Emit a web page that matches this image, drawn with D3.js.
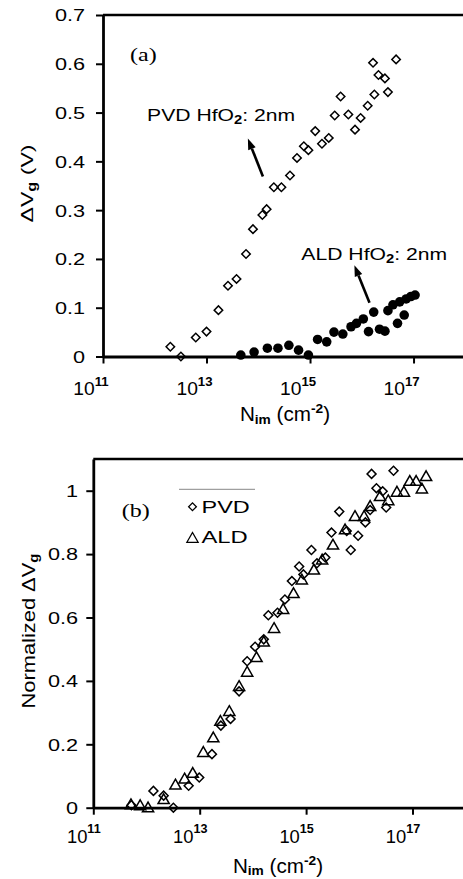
<!DOCTYPE html>
<html>
<head>
<meta charset="utf-8">
<script src="https://cdn.jsdelivr.net/npm/d3@7"></script>
<style>
  body { margin: 0; background: #fff; }
</style>
</head>
<body>
<div id="chart"></div>
<script>
// panel (a): gate voltage shift vs implant dose
const pvdN = [2.0e12, 3.2e12, 6.2e12, 1.0e13, 1.7e13, 2.6e13, 3.8e13, 5.8e13, 7.9e13, 1.2e14,
  1.45e14, 2.0e14, 2.8e14, 4.1e14, 5.6e14, 7.6e14, 9.3e14, 1.26e15, 1.7e15, 2.3e15,
  3.0e15, 3.9e15, 5.5e15, 7.4e15, 9.5e15, 1.3e16, 1.75e16, 1.65e16, 2.1e16, 2.8e16,
  3.2e16, 4.6e16];
const pvdDV = [0.020, 0.000, 0.039, 0.051, 0.095, 0.145, 0.159, 0.210, 0.261, 0.290,
  0.302, 0.347, 0.347, 0.371, 0.407, 0.431, 0.423, 0.462, 0.436, 0.448,
  0.494, 0.533, 0.496, 0.465, 0.489, 0.514, 0.537, 0.602, 0.577, 0.570,
  0.542, 0.609];
const aldN = [4.6e13, 8.3e13, 1.5e14, 2.4e14, 3.9e14, 6.0e14, 9.3e14, 1.4e15, 2.1e15, 2.9e15,
  4.3e15, 6.2e15, 7.9e15, 1.07e16, 1.35e16, 1.7e16, 2.2e16, 2.8e16, 3.2e16, 4.0e16,
  4.9e16, 5.4e16, 6.6e16, 7.2e16, 8.9e16, 1.07e17];
const aldDV = [0.003, 0.009, 0.017, 0.017, 0.023, 0.013, 0.003, 0.035, 0.030, 0.050,
  0.046, 0.061, 0.068, 0.077, 0.051, 0.091, 0.056, 0.052, 0.094, 0.106,
  0.068, 0.112, 0.085, 0.118, 0.123, 0.126];

// panel (b): normalized shift
const pvdNormN = [5.2e11, 1.35e12, 2.1e12, 3.2e12, 6.2e12, 9.8e12, 1.7e13, 2.5e13, 3.8e13, 5.5e13,
  7.8e13, 1.1e14, 1.6e14, 1.95e14, 2.9e14, 4.0e14, 5.4e14, 7.4e14, 8.9e14, 1.6e15,
  1.26e15, 2.3e15, 3.0e15, 4.2e15, 6.9e15, 5.8e15, 9.5e15, 1.3e16, 1.6e16, 1.7e16,
  2.1e16, 2.75e16, 3.2e16, 4.4e16];
const pvdNorm = [0.008, 0.053, 0.038, 0.000, 0.069, 0.095, 0.169, 0.259, 0.280, 0.367,
  0.462, 0.508, 0.531, 0.607, 0.615, 0.657, 0.715, 0.761, 0.736, 0.771,
  0.813, 0.789, 0.868, 0.934, 0.813, 0.873, 0.858, 0.900, 0.939, 1.053,
  1.008, 0.998, 0.947, 1.063];
const aldNormN = [5.1e11, 7.6e11, 1.07e12, 2.1e12, 3.5e12, 5.2e12, 7.4e12, 1.17e13, 1.8e13, 2.45e13,
  3.6e13, 5.5e13, 7.8e13, 1.17e14, 1.6e14, 2.5e14, 3.7e14, 5.8e14, 8.3e14, 1.4e15,
  2.0e15, 3.2e15, 5.4e15, 8.3e15, 1.23e16, 1.6e16, 2.45e16, 3.5e16, 5.1e16, 6.9e16,
  8.9e16, 1.17e17, 1.5e17, 1.8e17];
const aldNorm = [0.012, 0.009, 0.002, 0.028, 0.074, 0.093, 0.111, 0.177, 0.223, 0.275,
  0.306, 0.385, 0.430, 0.476, 0.525, 0.568, 0.628, 0.678, 0.721, 0.752,
  0.784, 0.831, 0.879, 0.921, 0.921, 0.953, 0.984, 0.971, 0.998, 0.998,
  1.032, 1.032, 1.008, 1.047];

const xTicks = [1e11, 1e13, 1e15, 1e17];
const xTickExp = ["11", "13", "15", "17"];
const yTicksA = [0, 0.1, 0.2, 0.3, 0.4, 0.5, 0.6, 0.7];
const yTicksB = [0, 0.2, 0.4, 0.6, 0.8, 1];

const sans = "'Liberation Sans', Arial, Helvetica, sans-serif";
const serif = "'Liberation Serif', 'Times New Roman', serif";

const svg = d3.select("#chart").append("svg")
  .attr("width", 463)
  .attr("height", 879);

// scales
const xA = d3.scaleLog().domain([1e11, 1e18]).range([103, 465.3]);
const yA = d3.scaleLinear().domain([0, 0.7]).range([356.5, 15]);
const xB = d3.scaleLog().domain([1e11, 1e18]).range([93.3, 465.7]);
const yB = d3.scaleLinear().domain([0, 1.1]).range([807.7, 459]);

// text stretched horizontally, the original font is wide
function wideText(parent, x, y, k, size, family) {
  return parent.append("text")
    .attr("transform", `translate(${x},${y}) scale(${k},1)`)
    .attr("font-size", size)
    .attr("font-family", family || sans)
    .attr("fill", "#000");
}

function drawAxes(x, y, yTicks, opt) {
  const g = svg.append("g");

  // frame top and right
  g.append("path")
    .attr("d", `M${x.range()[0]},${y.range()[1]}H${x.range()[1]}V${y.range()[0]}`)
    .attr("fill", "none").attr("stroke", "#000").attr("stroke-width", 2.5);

  const yAxis = g.append("g")
    .attr("transform", `translate(${x.range()[0]},0)`)
    .call(d3.axisLeft(y).tickValues(yTicks).tickSize(7).tickSizeOuter(0)
      .tickFormat(d => d === 0 ? "0" : (d === 1 ? "1" : d.toFixed(1))));
  yAxis.select(".domain").attr("stroke-width", 2.8);
  yAxis.selectAll(".tick line").attr("stroke-width", 2);
  yAxis.selectAll(".tick text")
    .attr("x", null)
    .attr("dy", "0.36em")
    .attr("font-size", opt.yTickSize)
    .attr("font-family", sans)
    .attr("transform", `translate(${-opt.yTickOff},0) scale(${opt.yTickK},1)`);

  const xAxis = g.append("g")
    .attr("transform", `translate(0,${y.range()[0]})`)
    .call(d3.axisBottom(x).tickValues(xTicks).tickSize(7).tickSizeOuter(0).tickFormat(""));
  xAxis.select(".domain").attr("stroke-width", 2.8);
  xAxis.selectAll(".tick line").attr("stroke-width", 2);
  xAxis.selectAll(".tick text").remove();
  xAxis.selectAll(".tick").each(function(d, i) {
    const t = wideText(d3.select(this), -opt.xTickShift, opt.xTickBase, opt.xTickK, 17.5);
    t.append("tspan").text("10");
    t.append("tspan").attr("dy", -9.3).attr("font-size", 12).attr("font-weight", "bold").text(xTickExp[i]);
  });

  // x label N_im (cm^-2)
  const xl = wideText(g, opt.xLabelX, opt.xLabelY, 1.06, 19.5).attr("text-anchor", "middle");
  xl.append("tspan").text("N");
  xl.append("tspan").attr("dy", 2.5).attr("font-size", 13).attr("font-weight", "bold").text("im");
  xl.append("tspan").attr("dy", -2.5).text(" (cm");
  xl.append("tspan").attr("dy", -8).attr("font-size", 13).attr("font-weight", "bold").text("-2");
  xl.append("tspan").attr("dy", 8).text(")");

  return g;
}

// ---------- panel (a)
const gA = drawAxes(xA, yA, yTicksA, {
  yTickSize: 16.3, yTickOff: 18, yTickK: 1.33,
  xTickShift: 12.5, xTickBase: 38.5, xTickK: 1.1,
  xLabelX: 285, xLabelY: 421
});

const ylA = svg.append("text")
  .attr("transform", `translate(33,183.5) rotate(-90) scale(1.36,1)`)
  .attr("text-anchor", "middle")
  .attr("font-size", 17).attr("font-family", sans);
ylA.append("tspan").text("\u0394V");
ylA.append("tspan").attr("dy", 3).attr("font-size", 12).attr("font-weight", "bold").text("g");
ylA.append("tspan").attr("dy", -3).text(" (V)");

wideText(svg, 130, 61, 1.3, 18.5, serif).text("(a)");

const diamond = d3.symbol(d3.symbolSquare, 36)();
const diamondB = d3.symbol(d3.symbolSquare, 40)();
const triangle = "M0,-5L5.6,4.8L-5.6,4.8Z";

svg.append("g").selectAll("path")
  .data(pvdN.map((n, i) => ({n: n, v: pvdDV[i]})))
  .enter().append("path")
  .attr("d", diamond)
  .attr("transform", d => `translate(${xA(d.n)},${yA(d.v)}) rotate(45)`)
  .attr("fill", "none").attr("stroke", "#000").attr("stroke-width", 1.5);

svg.append("g").selectAll("circle")
  .data(aldN.map((n, i) => ({n: n, v: aldDV[i]})))
  .enter().append("circle")
  .attr("cx", d => xA(d.n))
  .attr("cy", d => yA(d.v))
  .attr("r", 4.8)
  .attr("fill", "#000");

// annotations with arrows
function arrow(x1, y1, x2, y2) {
  const ang = Math.atan2(y2 - y1, x2 - x1);
  const L = 11, w = 4;
  const bx = x2 - L * Math.cos(ang), by = y2 - L * Math.sin(ang);
  svg.append("line")
    .attr("x1", x1).attr("y1", y1).attr("x2", bx).attr("y2", by)
    .attr("stroke", "#000").attr("stroke-width", 2.6);
  svg.append("path")
    .attr("d", `M${x2},${y2}L${bx + w * Math.sin(ang)},${by - w * Math.cos(ang)}L${bx - w * Math.sin(ang)},${by + w * Math.cos(ang)}Z`)
    .attr("fill", "#000");
}

const pvdText = wideText(svg, xA(7.1e11), yA(0.482), 1.23, 17.2);
pvdText.append("tspan").text("PVD HfO");
pvdText.append("tspan").attr("dy", 3).attr("font-size", 12).attr("font-weight", "bold").text("2");
pvdText.append("tspan").attr("dy", -3).text(": 2nm");
arrow(xA(1.23e14), yA(0.369), xA(6.3e13), yA(0.447));

const aldText = wideText(svg, xA(6.8e14), yA(0.198), 1.23, 17.2);
aldText.append("tspan").text("ALD HfO");
aldText.append("tspan").attr("dy", 3).attr("font-size", 12).attr("font-weight", "bold").text("2");
aldText.append("tspan").attr("dy", -3).text(": 2nm");
arrow(xA(1.41e16), yA(0.110), xA(7.2e15), yA(0.187));

// ---------- panel (b)
const gB = drawAxes(xB, yB, yTicksB, {
  yTickSize: 16.3, yTickOff: 15.3, yTickK: 1.33,
  xTickShift: 10, xTickBase: 35, xTickK: 1.05,
  xLabelX: 278, xLabelY: 872.5
});

const ylB = svg.append("text")
  .attr("transform", `translate(35,631) rotate(-90) scale(1.15,1)`)
  .attr("text-anchor", "middle")
  .attr("font-size", 19).attr("font-family", sans);
ylB.append("tspan").text("Normalized \u0394V");
ylB.append("tspan").attr("dy", 3).attr("font-size", 13).attr("font-weight", "bold").text("g");

wideText(svg, 121.7, 517, 1.3, 18.5, serif).text("(b)");

svg.append("g").selectAll("path")
  .data(pvdNormN.map((n, i) => ({n: n, v: pvdNorm[i]})))
  .enter().append("path")
  .attr("d", diamondB)
  .attr("transform", d => `translate(${xB(d.n)},${yB(d.v)}) rotate(45)`)
  .attr("fill", "none").attr("stroke", "#000").attr("stroke-width", 1.5);

svg.append("g").selectAll("path")
  .data(aldNormN.map((n, i) => ({n: n, v: aldNorm[i]})))
  .enter().append("path")
  .attr("d", triangle)
  .attr("transform", d => `translate(${xB(d.n)},${yB(d.v)})`)
  .attr("fill", "none").attr("stroke", "#000").attr("stroke-width", 1.5);

// legend
const leg = svg.append("g");
leg.append("line").attr("x1", 179).attr("x2", 255).attr("y1", 489.3).attr("y2", 489.3)
  .attr("stroke", "#888").attr("stroke-width", 1);
leg.append("path").attr("d", d3.symbol(d3.symbolSquare, 30)())
  .attr("transform", "translate(192.5,506.7) rotate(45)")
  .attr("fill", "none").attr("stroke", "#000").attr("stroke-width", 1.3);
wideText(leg, 201.5, 513.3, 1.38, 17).text("PVD");
leg.append("path").attr("d", triangle)
  .attr("transform", "translate(192.5,537.5)")
  .attr("fill", "none").attr("stroke", "#000").attr("stroke-width", 1.3);
wideText(leg, 201.5, 543.3, 1.4, 17).text("ALD");
</script>
</body>
</html>
